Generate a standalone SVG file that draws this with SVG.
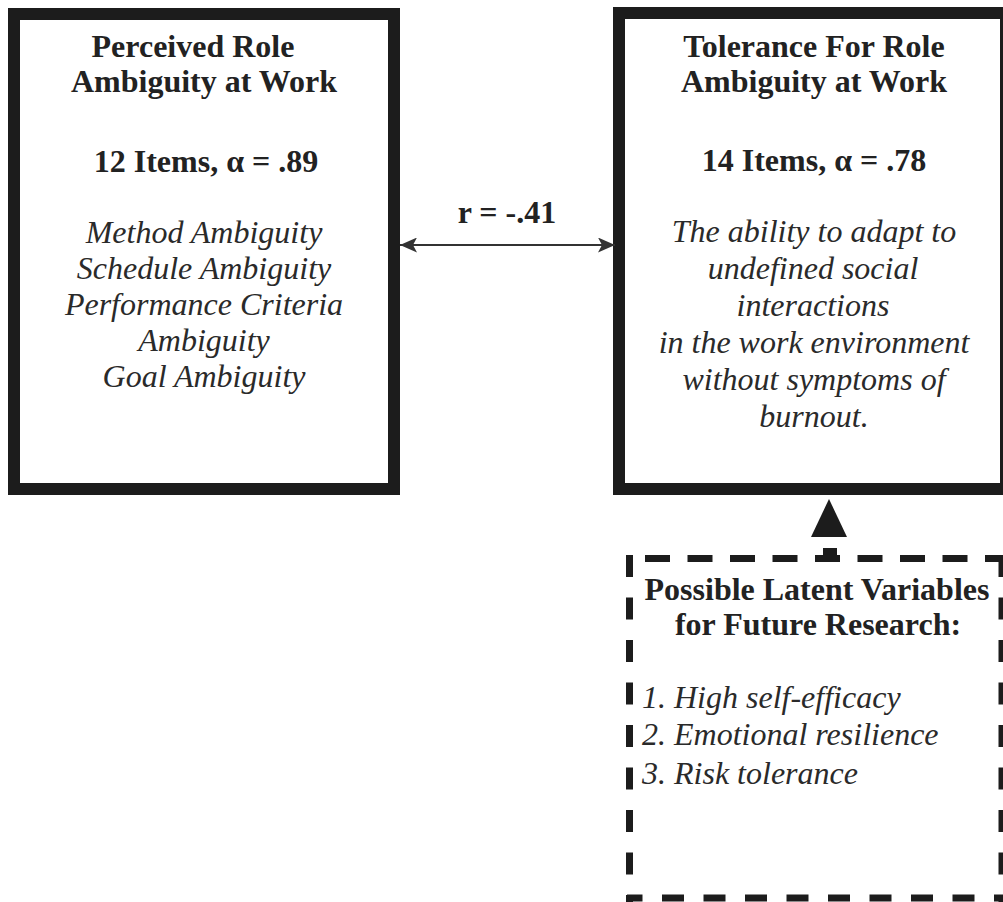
<svg xmlns="http://www.w3.org/2000/svg" width="1003" height="902" viewBox="0 0 1003 902">
  <style>
    .box { fill: #ffffff; stroke: #1c1c1c; stroke-width: 12; }
    .dash { fill: none; stroke: #1c1c1c; stroke-width: 7; }
    .b { font-family: "Liberation Serif", "Times New Roman", serif; font-weight: bold; font-size: 32px; fill: #222222; text-anchor: middle; }
    .i { font-family: "Liberation Serif", "Times New Roman", serif; font-style: italic; font-size: 32px; fill: #2a2a2a; text-anchor: middle; }
    .il { font-family: "Liberation Serif", "Times New Roman", serif; font-style: italic; font-size: 32px; fill: #2a2a2a; text-anchor: start; }
    .conn { stroke: #333333; stroke-width: 2; fill: none; }
  </style>
  <defs>
    <marker id="ah" viewBox="0 0 17 15" refX="17" refY="7.5" markerWidth="17" markerHeight="15" markerUnits="userSpaceOnUse" orient="auto-start-reverse">
      <path d="M0,0 L17,7.5 L0,15 L4,7.5 Z" fill="#333333"/>
    </marker>
  </defs>
  <rect width="1003" height="902" fill="#ffffff"/>

  <g id="node-perceived">
    <rect class="box" x="14" y="14" width="380" height="475"/>
    <text class="b" x="193" y="57">Perceived Role</text>
    <text class="b" x="204" y="92">Ambiguity at Work</text>
    <text class="b" x="206" y="172">12 Items, α = .89</text>
    <text class="i" x="204" y="243">Method Ambiguity</text>
    <text class="i" x="204" y="279">Schedule Ambiguity</text>
    <text class="i" x="204" y="315">Performance Criteria</text>
    <text class="i" x="204" y="351">Ambiguity</text>
    <text class="i" x="204" y="387">Goal Ambiguity</text>
  </g>

  <g id="node-tolerance">
    <rect class="box" x="619" y="13" width="387" height="476"/>
    <text class="b" x="814" y="57">Tolerance For Role</text>
    <text class="b" x="814" y="92">Ambiguity at Work</text>
    <text class="b" x="814" y="171">14 Items, α = .78</text>
    <text class="i" x="814" y="242">The ability to adapt to</text>
    <text class="i" x="813" y="279">undefined social</text>
    <text class="i" x="813" y="316">interactions</text>
    <text class="i" x="814" y="353">in the work environment</text>
    <text class="i" x="814" y="390">without symptoms of</text>
    <text class="i" x="814" y="427">burnout.</text>
  </g>

  <g id="node-latent">
    <rect x="630" y="558" width="372" height="340" fill="#ffffff"/>
    <line class="dash" x1="645" y1="558.5" x2="1003" y2="558.5" stroke-dasharray="25 17.5"/>
    <line class="dash" x1="629.5" y1="555" x2="629.5" y2="902" stroke-dasharray="22 20.5"/>
    <line class="dash" x1="627" y1="898" x2="1003" y2="898" stroke-dasharray="22 19.5" stroke-dashoffset="6.5"/>
    <line class="dash" x1="1002" y1="555" x2="1002" y2="902" stroke-dasharray="22 20.5"/>
    <text class="b" x="817" y="600">Possible Latent Variables</text>
    <text class="b" x="818" y="635">for Future Research:</text>
    <text class="il" x="642" y="708">1. High self-efficacy</text>
    <text class="il" x="642" y="745">2. Emotional resilience</text>
    <text class="il" x="642" y="784">3. Risk tolerance</text>
  </g>

  <g id="connectors">
    <line class="conn" x1="400" y1="245" x2="615" y2="245" marker-start="url(#ah)" marker-end="url(#ah)"/>
    <text class="b" x="507" y="223">r = -.41</text>
    <polygon points="829,499 811,537 847,537" fill="#1c1c1c"/>
    <line x1="830" y1="548" x2="830" y2="558" stroke="#1c1c1c" stroke-width="14"/>
  </g>
</svg>
